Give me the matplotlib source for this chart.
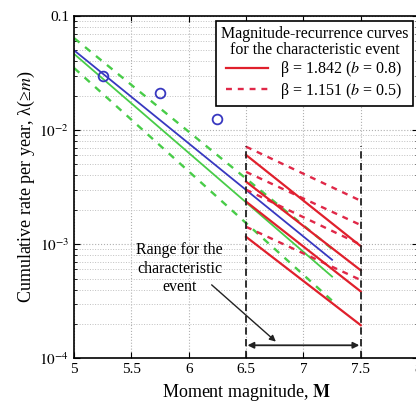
import numpy as np
import matplotlib
matplotlib.use("Agg")
import matplotlib.pyplot as plt
from matplotlib.lines import Line2D

plt.rcParams['font.family'] = 'serif'
plt.rcParams['font.serif'] = ['Liberation Serif', 'DejaVu Serif']
plt.rcParams['mathtext.fontset'] = 'stix'

# fitted Gutenberg-Richter curves (endpoints) and observed rates
gr_m = [5.0, 7.25]
blue_rate = [0.050, 7.3e-4]
green_rate = [0.0465, 5.2e-4]
green_hi = [0.064, 9.1e-4]
green_lo = [0.035, 3.2e-4]

obs_m = [5.25, 5.75, 6.25]
obs_rate = [0.030, 0.021, 0.0125]

# characteristic event curves, 6.5 to 7.5
char_m = [6.5, 7.5]
solid_start = [6.05e-3, 3.53e-3, 2.36e-3, 1.16e-3]
solid_end = [9.6e-4, 5.9e-4, 3.85e-4, 1.95e-4]
dash_start = [7.15e-3, 4.3e-3, 3.0e-3, 1.42e-3]
dash_end = [2.4e-3, 1.47e-3, 9.9e-4, 4.85e-4]

xticks = [5, 5.5, 6, 6.5, 7, 7.5, 8]
xticklabels = ['5', '5.5', '6', '6.5', '7', '7.5', '8']
yticks = [1e-4, 1e-3, 1e-2, 1e-1]
yticklabels = ['$10^{-4}$', '$10^{-3}$', '$10^{-2}$', '0.1']

red = '#e0202c'
red_d = '#e02848'
blue = '#3838c0'
green = '#48cc48'

fig = plt.figure(figsize=(4.16, 4.09), dpi=100)
ax = fig.add_axes([0.178, 0.124, 0.827, 0.837])
ax.set_yscale('log')

ax.plot(gr_m, green_hi, color=green, lw=1.7, ls=(0, (3, 3)))
ax.plot(gr_m, green_lo, color=green, lw=1.7, ls=(0, (3, 3)))
ax.plot(gr_m, green_rate, color=green, lw=1.3)
ax.plot(gr_m, blue_rate, color=blue, lw=1.3)
ax.plot(obs_m, obs_rate, 'o', mfc='none', mec=blue, ms=7, mew=1.3)

for s, e in zip(dash_start, dash_end):
    ax.plot(char_m, [s, e], color=red_d, lw=1.7, ls=(0, (2.5, 2.5)))
for s, e in zip(solid_start, solid_end):
    ax.plot(char_m, [s, e], color=red, lw=1.6)

ax.vlines(char_m, 1e-4, 7.2e-3, colors='#222222', lw=1.3, linestyles=(0, (4, 2.5)))

ax.annotate('', xy=(7.5, 1.3e-4), xytext=(6.5, 1.3e-4),
            arrowprops=dict(arrowstyle='<|-|>', color='#222222', lw=1.3,
                            mutation_scale=9, shrinkA=1, shrinkB=1))
ax.annotate('', xy=(6.76, 1.4e-4), xytext=(6.2, 4.4e-4),
            arrowprops=dict(arrowstyle='-|>', color='#222222', lw=1.0,
                            mutation_scale=9, shrinkA=0, shrinkB=0))
ax.text(5.92, 6.1e-4, 'Range for the\ncharacteristic\nevent', ha='center', va='center',
        fontsize=11.5, linespacing=1.2)

ax.set_xlim(5, 8)
ax.set_ylim(1e-4, 0.1)
ax.set_xticks(xticks)
ax.set_xticklabels(xticklabels)
ax.set_yticks(yticks)
ax.set_yticklabels(yticklabels)
ax.tick_params(which='both', direction='in', top=True, right=True, labelsize=11)
ax.tick_params(which='major', length=4)
ax.tick_params(which='minor', length=2)
ax.grid(True, which='major', color='#b0b0b0', ls=':', lw=0.8)
ax.grid(True, which='minor', axis='y', color='#c0c0c0', ls=':', lw=0.7)
for sp in ax.spines.values():
    sp.set_linewidth(1.2)

ax.set_xlabel(r'Moment magnitude, $\mathbf{M}$', fontsize=13, labelpad=4)
ax.set_ylabel(r'Cumulative rate per year, λ(≥$m$)', fontsize=13, labelpad=2)

handles = [Line2D([], [], color=red, lw=1.6),
           Line2D([], [], color=red_d, lw=1.7, ls=(0, (2.5, 2.5)))]
labels = ['β = 1.842 ($b$ = 0.8)', 'β = 1.151 ($b$ = 0.5)']
leg = ax.legend(handles, labels, title='Magnitude-recurrence curves\nfor the characteristic event',
                loc='upper right', bbox_to_anchor=(0.985, 0.985), borderaxespad=0,
                fontsize=11.5, title_fontsize=11.5, fancybox=False, framealpha=1,
                edgecolor='black', handlelength=2.6, borderpad=0.3, labelspacing=0.1,
                handletextpad=0.8)
leg.get_frame().set_linewidth(1.2)
leg.get_title().set_multialignment('center')
leg.get_title().set_linespacing(1.0)

fig.savefig('out.png', dpi=100)
